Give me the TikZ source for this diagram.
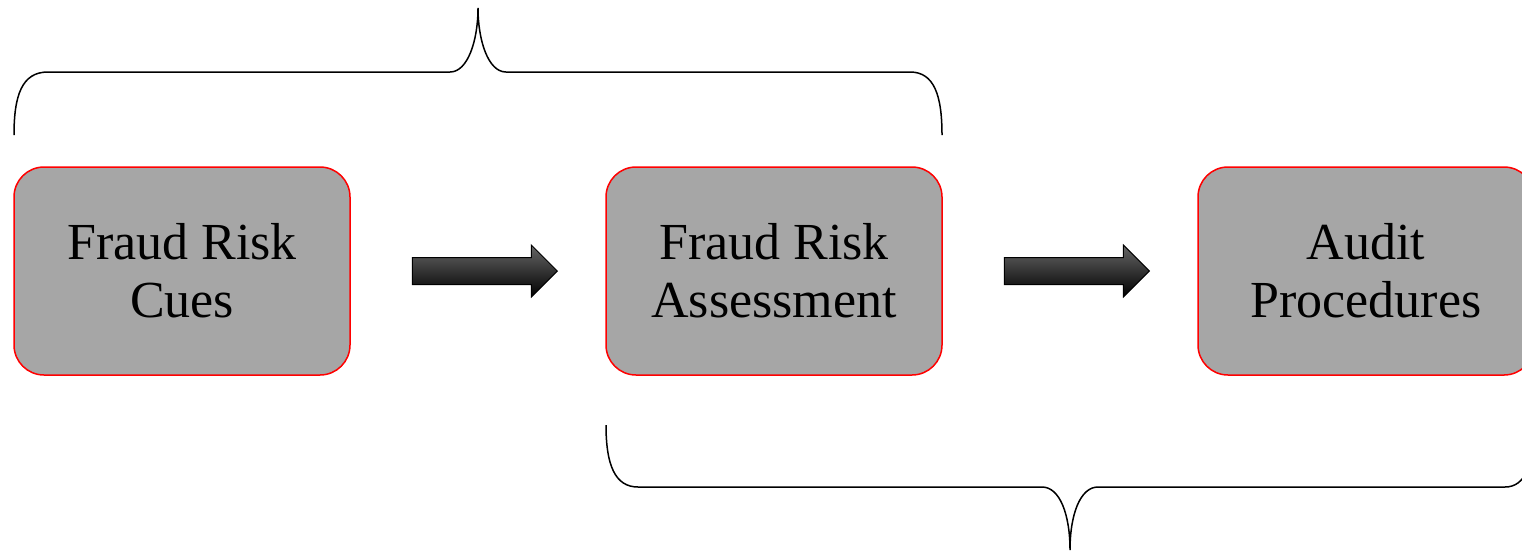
\documentclass[tikz,border=0pt]{standalone}
\usepackage{fontspec}
\setmainfont{Liberation Serif}
\usetikzlibrary{shapes.arrows}
\definecolor{boxgray}{HTML}{A6A6A6}
\definecolor{boxred}{HTML}{FF0000}
\tikzset{
  stage/.style={draw=boxred, line width=1.5pt, fill=boxgray, rounded corners=30pt,
    minimum width=336pt, minimum height=208pt, inner sep=0pt, align=center,
    font=\fontsize{52}{58}\selectfont},
  blockarrow/.style={single arrow, draw=black, line width=1pt, top color=black!60, bottom color=black,
    minimum height=145pt, inner sep=0pt, inner ysep=13pt, single arrow head extend=12.5pt,
    single arrow tip angle=90, shape border rotate=0, anchor=tip},
  bracestyle/.style={draw=black, line width=1.5pt}
}
\begin{document}
\begin{tikzpicture}[x=1pt,y=-1pt]
\useasboundingbox (0,0) rectangle (1522,550);
\node[stage] (cues) at (182,271) {Fraud Risk\\Cues};
\node[stage] (assess) at (774,271) {Fraud Risk\\Assessment};
\node[stage] (audit) at (1366,271) {Audit\\Procedures};
\node[blockarrow] (a1) at (558,271) {};
\node[blockarrow] (a2) at (1150,271) {};
\draw[bracestyle] (14,135) .. controls (14,95) and (22,72) .. (48,72) -- (450,72)
  .. controls (468,72) and (478,40) .. (478,8)
  .. controls (478,40) and (488,72) .. (506,72) -- (910,72)
  .. controls (934,72) and (942,95) .. (942,135);
\draw[bracestyle] (606,425) .. controls (606,465) and (615,487) .. (638,487) -- (1042,487)
  .. controls (1060,487) and (1070,515) .. (1070,550)
  .. controls (1070,515) and (1080,487) .. (1098,487) -- (1505,487)
  .. controls (1525,487) and (1534,465) .. (1534,425);
\end{tikzpicture}
\end{document}
